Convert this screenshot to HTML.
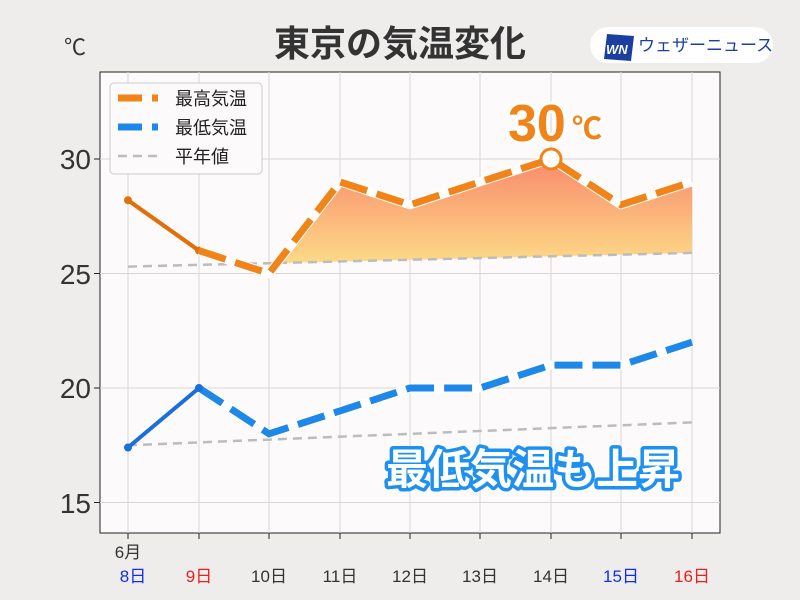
<!DOCTYPE html>
<html><head><meta charset="utf-8"><style>
body{margin:0;background:#efecec;}
svg{display:block;font-family:"Liberation Sans","Noto Sans CJK JP",sans-serif;}
</style></head><body>
<svg width="800" height="600" viewBox="0 0 800 600">
<defs>
<linearGradient id="g" x1="0" y1="0" x2="0" y2="1">
<stop offset="0" stop-color="#f98a6c"/><stop offset="1" stop-color="#fde28a"/>
</linearGradient>
</defs>
<rect width="800" height="600" fill="#efecec"/>
<rect x="100" y="72" width="620" height="461" fill="#fcfafb" stroke="#222" stroke-width="1"/>
<g stroke="#d8d6d6" stroke-width="1">
<line x1="128" y1="72" x2="128" y2="533"/><line x1="199" y1="72" x2="199" y2="533"/>
<line x1="269" y1="72" x2="269" y2="533"/><line x1="340" y1="72" x2="340" y2="533"/>
<line x1="410" y1="72" x2="410" y2="533"/><line x1="480" y1="72" x2="480" y2="533"/>
<line x1="551" y1="72" x2="551" y2="533"/><line x1="621" y1="72" x2="621" y2="533"/>
<line x1="692" y1="72" x2="692" y2="533"/>
<line x1="100" y1="159" x2="720" y2="159"/><line x1="100" y1="273.5" x2="720" y2="273.5"/>
<line x1="100" y1="388" x2="720" y2="388"/><line x1="100" y1="502.5" x2="720" y2="502.5"/>
</g>
<g stroke="#222" stroke-width="1">
<line x1="94" y1="159" x2="100" y2="159"/><line x1="94" y1="273.5" x2="100" y2="273.5"/>
<line x1="94" y1="388" x2="100" y2="388"/><line x1="94" y1="502.5" x2="100" y2="502.5"/>
<line x1="128" y1="533" x2="128" y2="539"/><line x1="199" y1="533" x2="199" y2="539"/>
<line x1="269" y1="533" x2="269" y2="539"/><line x1="340" y1="533" x2="340" y2="539"/>
<line x1="410" y1="533" x2="410" y2="539"/><line x1="480" y1="533" x2="480" y2="539"/>
<line x1="551" y1="533" x2="551" y2="539"/><line x1="621" y1="533" x2="621" y2="539"/>
<line x1="692" y1="533" x2="692" y2="539"/>
</g>
<polygon points="269,273.5 340,181.9 410,204.8 480,181.9 551,159 621,204.8 692,181.9 692,252.9 269,263.2" fill="url(#g)"/>
<polyline points="128,266.6 692,252.9" fill="none" stroke="#bdbbbb" stroke-width="2.5" stroke-dasharray="9,6"/>
<polyline points="128,445.3 692,422.4" fill="none" stroke="#bdbbbb" stroke-width="2.5" stroke-dasharray="9,6"/>
<polyline points="128,200.2 199,250.6 269,273.5" fill="none" stroke="#e0700a" stroke-width="4"/>
<circle cx="128" cy="200.2" r="4" fill="#e0700a"/><circle cx="199" cy="250.6" r="4" fill="#e0700a"/>
<polyline points="199,250.6 269,273.5 340,181.9 410,204.8 480,181.9 551,159 621,204.8 692,181.9" fill="none" stroke="#fff" stroke-width="9" stroke-linejoin="round"/>
<polyline points="199,250.6 269,273.5 340,181.9 410,204.8 480,181.9 551,159 621,204.8 692,181.9" fill="none" stroke="#f08418" stroke-width="7" stroke-dasharray="28,10"/>
<polyline points="128,200.2 199,250.6" fill="none" stroke="#e0700a" stroke-width="4"/>
<circle cx="551" cy="159" r="10" fill="#fff" stroke="#f08418" stroke-width="3"/>
<polyline points="199,388 269,433.8 340,410.9 410,388 480,388 551,365.1 621,365.1 692,342.2" fill="none" stroke="#fff" stroke-width="9" stroke-linejoin="round"/>
<polyline points="199,388 269,433.8 340,410.9 410,388 480,388 551,365.1 621,365.1 692,342.2" fill="none" stroke="#1e88e8" stroke-width="7" stroke-dasharray="28,10"/>
<polyline points="128,447.5 199,388" fill="none" stroke="#1a70d8" stroke-width="4"/>
<circle cx="128" cy="447.5" r="4" fill="#1a70d8"/><circle cx="199" cy="388" r="4" fill="#1a70d8"/>
<rect x="110" y="83" width="152" height="91" rx="4" fill="#fcfafb" stroke="#cccccc"/>
<line x1="118" y1="98" x2="158" y2="98" stroke="#f08418" stroke-width="7" stroke-dasharray="24,10"/>
<line x1="118" y1="127" x2="158" y2="127" stroke="#1e88e8" stroke-width="7" stroke-dasharray="24,10"/>
<line x1="118" y1="156" x2="158" y2="156" stroke="#bdbbbb" stroke-width="2.5" stroke-dasharray="9,6"/>
<g font-size="18" fill="#222">
<text x="175" y="105">最高気温</text><text x="175" y="134">最低気温</text><text x="175" y="163">平年値</text>
</g>
<g font-size="28" fill="#333" text-anchor="end">
<text x="91" y="169">30</text><text x="91" y="284">25</text><text x="91" y="398">20</text><text x="91" y="513">15</text>
</g>
<text x="64" y="55" font-size="22" fill="#333">℃</text>
<g font-size="17" text-anchor="middle" fill="#333">
<text x="128" y="558">6月</text>
<text x="133" y="582" fill="#1030e8">8日</text>
<text x="199" y="582" fill="#e82020">9日</text>
<text x="269" y="582">10日</text><text x="340" y="582">11日</text><text x="410" y="582">12日</text>
<text x="480" y="582">13日</text><text x="551" y="582">14日</text>
<text x="621" y="582" fill="#1030e8">15日</text>
<text x="692" y="582" fill="#e82020">16日</text>
</g>
<text x="400" y="56" font-size="36" font-weight="bold" text-anchor="middle" fill="#333">東京の気温変化</text>
<rect x="590" y="27" width="183" height="36" rx="18" fill="#fff"/>
<polygon points="607,34 634,36 631,61 604,59" fill="#1a3fa0"/>
<text x="606" y="54" font-size="13" font-weight="bold" font-style="italic" fill="#fff">WN</text>
<text x="638" y="51" font-size="17" fill="#1a3fa0">ウェザーニュース</text>
<text x="508" y="141" font-size="52" font-weight="bold" fill="#f08418" stroke="#fff" stroke-width="6" paint-order="stroke">30</text>
<text x="572" y="139" font-size="30" font-weight="bold" fill="#f08418" stroke="#fff" stroke-width="5" paint-order="stroke">℃</text>
<text x="533" y="484" font-size="42" font-weight="bold" text-anchor="middle" fill="#fff" stroke="#1e90f0" stroke-width="7" paint-order="stroke" stroke-linejoin="round">最低気温も上昇</text>
</svg>
</body></html>
